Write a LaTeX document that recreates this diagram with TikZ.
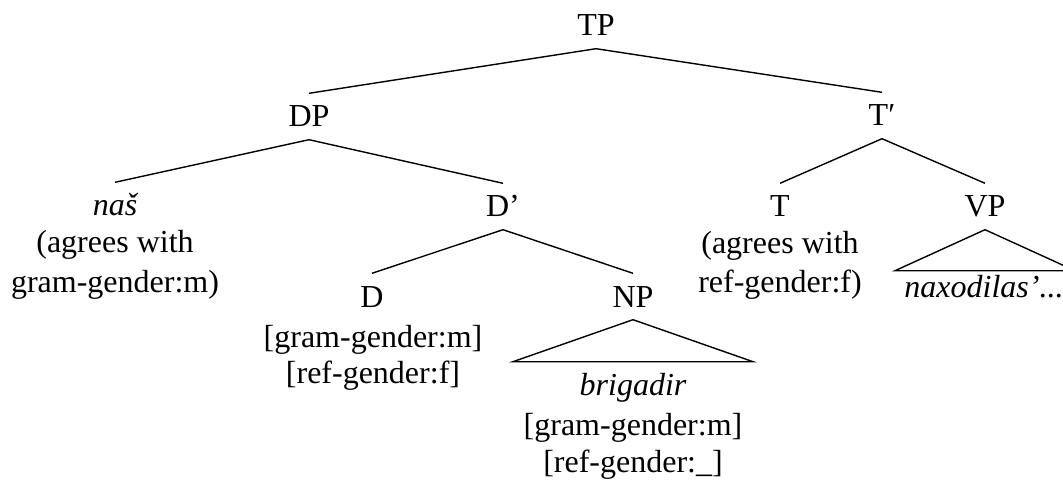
\documentclass[tikz,border=0pt]{standalone}
\usepackage{fontspec}
\setmainfont{Liberation Serif}
\begin{document}
\begin{tikzpicture}[x=1pt,y=-1pt,
  every node/.style={font=\fontsize{32}{38}\selectfont, inner xsep=0pt, anchor=base},
  cat/.style={inner ysep=12.5pt, text height=21pt, text depth=0pt},
  txt/.style={inner sep=0pt},
  edge/.style={line width=1.4pt},
]
\useasboundingbox (0,0) rectangle (1063,481);
% categories
\node[cat] (TP) at (596,36) {TP};
\node[cat] (DP) at (309,127) {DP};
\node[cat] (Tbar) at (882,126) {T′};
\node[cat] (nas) at (115,216) {\itshape naš};
\node[cat] (Dbar) at (503,217) {D’};
\node[cat] (T) at (780,217) {T};
\node[cat] (VP) at (985,217) {VP};
\node[cat] (D) at (372,307) {D};
\node[cat] (NP) at (633,307) {NP};
% annotations
\node[txt] (nasA) at (115,253) {(agrees with};
\node[txt] (nasB) at (115,292) {gram-gender:m)};
\node[txt] (TA) at (780,254) {(agrees with};
\node[txt] (TB) at (780,292) {ref-gender:f)};
\node[txt] (DA) at (373,347) {[gram-gender:m]};
\node[txt] (DB) at (373,383) {[ref-gender:f]};
\node[txt] (brig) at (633,395) {\itshape brigadir};
\node[txt] (NPA) at (633,435) {[gram-gender:m]};
\node[txt] (NPB) at (633,472) {[ref-gender:\_]};
\node[txt] (nax) at (984,297) {\itshape naxodilas’...};
% branches
\draw[edge] (TP.south) -- (DP.north);
\draw[edge] (TP.south) -- (Tbar.north);
\draw[edge] (DP.south) -- (nas.north);
\draw[edge] (DP.south) -- (Dbar.north);
\draw[edge] (Dbar.south) -- (D.north);
\draw[edge] (Dbar.south) -- (NP.north);
\draw[edge] (Tbar.south) -- (T.north);
\draw[edge] (Tbar.south) -- (VP.north);
% triangles
\draw[edge] (NP.south) -- ++(-120,42) -- ++(240,0) -- cycle;
\draw[edge] (VP.south) -- ++(-90,41) -- ++(180,0) -- cycle;
\end{tikzpicture}
\end{document}
